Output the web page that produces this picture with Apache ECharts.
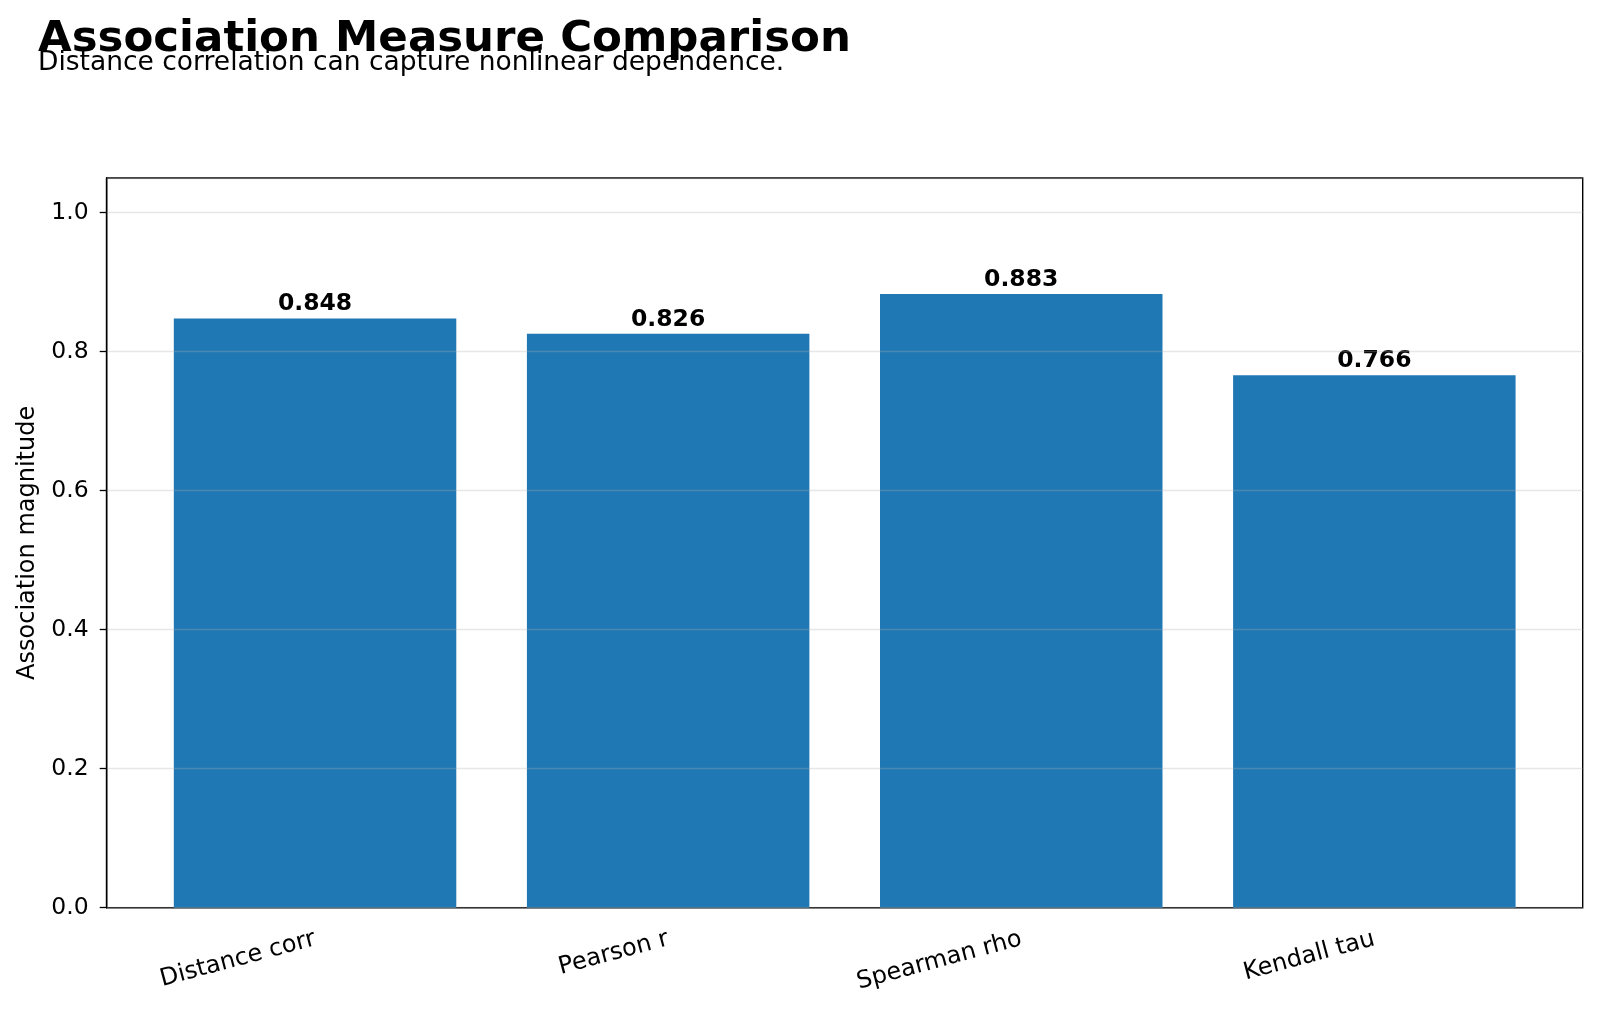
<!DOCTYPE html>
<html>
<head>
<meta charset="utf-8">
<script src="https://cdn.jsdelivr.net/npm/echarts@6/dist/echarts.min.js"></script>
<style>
  html, body { margin: 0; padding: 0; background: #fff; }
  #chart { width: 1600px; height: 1010px; }
</style>
</head>
<body>
<div id="chart"></div>
<script>
  // data
  const measures = ['Distance corr', 'Pearson r', 'Spearman rho', 'Kendall tau'];
  const magnitudes = [0.848, 0.826, 0.883, 0.766];
  const yTicks = [0, 0.2, 0.4, 0.6, 0.8, 1.0];
  const yMax = 1.05;

  const font = 'DejaVu Sans';
  const plotTop = 178, plotBottom = 102.3, plotLeft = 106.7, plotRight = 17.3;
  const plotH = 1010 - plotTop - plotBottom;
  // tick-only grid ends at the last tick so no stub is drawn at the axis max
  const tickTop = plotTop + plotH * (1 - yTicks[yTicks.length - 1] / yMax);

  const chart = echarts.init(document.getElementById('chart'));

  chart.setOption({
    animation: false,
    backgroundColor: '#fff',
    title: [{
      text: 'Association Measure Comparison',
      left: 33,
      top: 13,
      textStyle: { fontFamily: font, fontSize: 43.5, fontWeight: 'bold', color: '#000' }
    }, {
      text: 'Distance correlation can capture nonlinear dependence.',
      left: 33,
      top: 45,
      textStyle: { fontFamily: font, fontSize: 26.5, fontWeight: 'normal', color: '#000' }
    }],
    grid: [
      // frame + y axis
      { left: plotLeft, right: plotRight, top: plotTop, bottom: plotBottom, show: true, borderColor: '#000', borderWidth: 1.4, backgroundColor: 'transparent' },
      // bars (matplotlib leaves extra margin beside the outer bars)
      { left: 138.5, right: 49.1, top: plotTop, bottom: plotBottom },
      // y tick marks
      { left: plotLeft, right: plotRight, top: tickTop, bottom: plotBottom }
    ],
    xAxis: [{
      gridIndex: 0, type: 'value', min: 0, max: 1, show: false
    }, {
      gridIndex: 1,
      type: 'category',
      data: measures,
      axisLine: { show: false },
      axisTick: { alignWithLabel: true, length: 7, lineStyle: { color: '#000', width: 1.3 } },
      axisLabel: { rotate: 15, margin: 31, fontFamily: font, fontSize: 24, color: '#000' }
    }, {
      gridIndex: 2, type: 'value', min: 0, max: 1, show: false
    }],
    yAxis: [{
      gridIndex: 0,
      type: 'value',
      min: 0,
      max: yMax,
      interval: 0.2,
      z: 5,
      name: 'Association magnitude',
      nameLocation: 'middle',
      nameGap: 67,
      nameTextStyle: { fontFamily: font, fontSize: 24, color: '#000' },
      axisLine: { show: true, lineStyle: { color: '#000', width: 1.4 } },
      axisTick: { show: false },
      axisLabel: {
        customValues: yTicks, margin: 18, fontFamily: font, fontSize: 23.5, color: '#000',
        formatter: v => v.toFixed(1)
      },
      splitLine: { show: true, lineStyle: { color: 'rgba(176,176,176,0.3)', width: 1.3 } }
    }, {
      gridIndex: 1, type: 'value', min: 0, max: yMax, show: false, splitLine: { show: false }
    }, {
      gridIndex: 2,
      type: 'value',
      min: 0,
      max: yTicks[yTicks.length - 1],
      interval: 0.2,
      axisLine: { show: false },
      axisLabel: { show: false },
      splitLine: { show: false },
      axisTick: { show: true, length: 7, lineStyle: { color: '#000', width: 1.3 } }
    }],
    series: [{
      type: 'bar',
      xAxisIndex: 1,
      yAxisIndex: 1,
      z: 2,
      data: magnitudes,
      barWidth: '80%',
      itemStyle: { color: '#1f77b4' },
      label: {
        show: true,
        position: 'top',
        distance: 2,
        fontFamily: font,
        fontSize: 23.5,
        fontWeight: 'bold',
        color: '#000',
        formatter: p => p.value.toFixed(3)
      }
    }]
  });
</script>
</body>
</html>
